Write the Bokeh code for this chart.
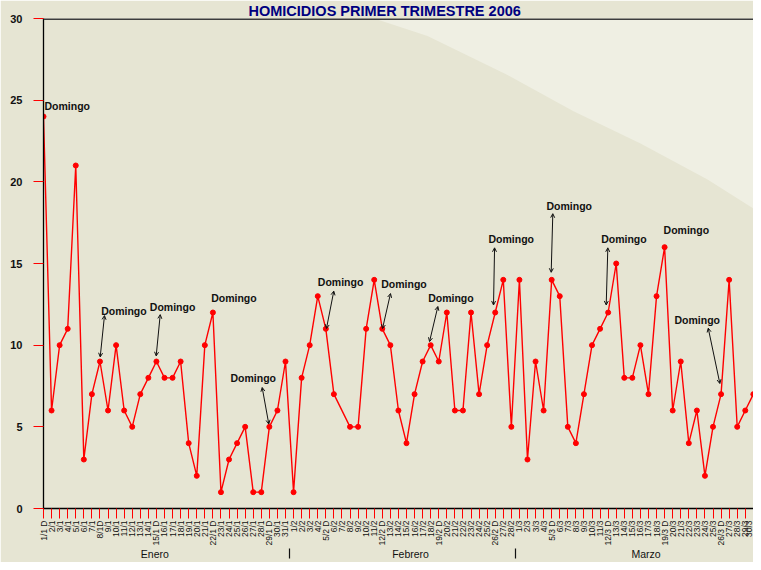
import math
from bokeh.plotting import figure
from bokeh.models import (FixedTicker, Label, Arrow, OpenHead, PolyAnnotation, Range1d,
                          LinearAxis, Span)
from bokeh.embed import file_html
from bokeh.resources import INLINE

# ---- data (homicidios por día) ----
enero = [24, 6, 10, 11, 21, 3, 7, 9, 6, 10, 6, 5, 7, 8, 9, 8, 8, 9, 4, 2,
         10, 12, 1, 3, 4, 5, 1, 1, 5, 6, 9]
febrero = [1, 8, 10, 13, 11, 7, None, 5, 5, 11, 14, 11, 10, 6, 4, 7, 9, 10, 9, 12,
           6, 6, 12, 7, 10, 12, 14, 5]
marzo = [14, 3, 9, 6, 14, 13, 5, 4, 7, 10, 11, 12, 15, 8, 8, 10, 7, 13, 16, 6,
         9, 4, 6, 2, 5, 7, 14, 5, 6, 7, 5]

ene_labels = ["1/1 D", "2/1", "3/1", "4/1", "5/1", "6/1", "7/1", "8/1D", "9/1", "10/1",
              "11/1", "12/1", "13/1", "14/1", "15/1 D", "16/1", "17/1", "18/1", "19/1", "20/1",
              "21/1", "22/1 D", "23/1", "24/1", "25/1", "26/1", "27/1", "28/1", "29/1 D", "30/1",
              "31/1"]
feb_labels = ["1/2", "2/2", "3/2", "4/2", "5/2 D", "6/2", "7/2", "8/2", "9/2", "10/2",
              "11/2", "12/2 D", "13/2", "14/2", "15/2", "16/2", "17/2", "18/2", "19/2 D", "20/2",
              "21/2", "22/2", "23/2", "24/2", "25/2", "26/2 D", "27/2", "28/2"]
mar_labels = ["1/3", "2/3", "3/3", "4/3", "5/3 D", "6/3", "7/3", "8/3", "9/3", "10/3",
              "11/3", "12/3 D", "13/3", "14/3", "15/3", "16/3", "17/3", "18/3", "19/3 D", "20/3",
              "21/3", "22/3", "23/3", "24/3", "25/3", "26/3 D", "27/3", "28/3", "29/3", "30/3",
              "31/3"]

meses = ["Enero", "Febrero", "Marzo"]
meses_x = [13.8, 45.5, 74.7]
separadores_x = [30.5, 58.5]
y_ticks = [0, 5, 10, 15, 20, 25, 30]

# "Domingo" annotations (label position in data units)
dom_x = [0.12, 7.15, 13.18, 20.79, 23.18, 34.01, 41.87, 47.69, 62.36, 55.17, 69.14, 76.87, 78.23]
dom_y = [24.62, 12.11, 12.33, 12.87, 7.99, 13.88, 13.73, 12.91, 18.53, 16.49, 16.49, 17.05, 11.55]
# arrows: (x0, y0) -> (x1, y1)
arr_x0 = [7.56, 14.47, 27.11, 35.99, 43.02, 48.89, 63.14, 55.92, 69.96, 82.41]
arr_y0 = [11.81, 11.87, 7.41, 13.31, 13.16, 12.37, 18.05, 15.96, 15.96, 11.04]
arr_x1 = [7.03, 13.97, 27.93, 35.08, 42.03, 47.86, 62.94, 55.79, 69.76, 83.85]
arr_y1 = [9.28, 9.34, 5.17, 11.02, 11.02, 10.22, 14.46, 12.46, 12.46, 7.65]

values = enero + febrero + marzo
labels = ene_labels + feb_labels + mar_labels
idx = list(range(len(values)))
xs = [i for i, v in zip(idx, values) if v is not None]
ys = [v for v in values if v is not None]

BG = "#E6E5D3"
LIGHT = "#EFEFE3"
FONT = "Liberation Sans"
INK = "#111111"

p = figure(width=753, height=562, output_backend="svg", toolbar_location=None,
           x_range=Range1d(0, 88.02), y_range=Range1d(0, 30),
           min_border_left=43, min_border_right=0, min_border_top=2, min_border_bottom=10,
           background_fill_color=BG, border_fill_color=BG)

p.title.text = "HOMICIDIOS PRIMER TRIMESTRE 2006"
p.title.align = "left"
p.title.offset = 205
p.title.standoff = 0
p.title.text_font = FONT
p.title.text_font_size = "14.5px"
p.title.text_font_style = "bold"
p.title.text_color = "#000080"

# light swoosh in the background (reference pixel outline converted to data units)
sw_px = [(330, 0), (350, 7), (427, 33), (507, 73), (573, 110), (640, 143), (707, 180),
         (761, 215), (761, 15), (733, 0)]
p.add_layout(PolyAnnotation(xs=[(a - 43) / 8.066 for a, b in sw_px],
                            ys=[(517 - b) / 16.733 for a, b in sw_px],
                            fill_color=LIGHT, fill_alpha=1.0, line_alpha=0, level="underlay"))

p.xgrid.visible = False
p.ygrid.visible = False
p.outline_line_color = None
p.add_layout(Span(location=30, dimension="width", line_color="#3c3c3c", line_width=3))

# y axis
ya = p.yaxis[0]
ya.ticker = FixedTicker(ticks=y_ticks)
ya.major_tick_out = 10
ya.major_tick_in = 0
ya.minor_tick_out = 0
ya.minor_tick_in = 0
ya.major_tick_line_color = "red"
ya.axis_line_color = "black"
ya.axis_line_width = 1.3
ya.major_label_text_font = FONT
ya.major_label_text_font_size = "11px"
ya.major_label_text_font_style = "bold"
ya.major_label_text_color = INK
ya.major_label_standoff = 11

# x axis (days)
xa = p.xaxis[0]
xa.ticker = FixedTicker(ticks=idx)
xa.major_label_overrides = {i: lab for i, lab in zip(idx, labels)}
xa.major_label_orientation = math.pi / 2
xa.major_tick_out = 10
xa.major_tick_in = 0
xa.minor_tick_out = 0
xa.minor_tick_in = 0
xa.major_tick_line_color = "red"
xa.axis_line_color = "black"
xa.axis_line_width = 1.3
xa.major_label_text_font = FONT
xa.major_label_text_font_size = "8.5px"
xa.major_label_text_color = INK
xa.major_label_standoff = 2

# month axis (group labels + separators as minor ticks)
ma = LinearAxis(ticker=FixedTicker(ticks=meses_x, minor_ticks=separadores_x))
ma.major_label_overrides = {mx: m for mx, m in zip(meses_x, meses)}
ma.axis_line_color = None
ma.major_tick_out = 0
ma.major_tick_in = 0
ma.major_tick_line_color = None
ma.minor_tick_out = 10
ma.minor_tick_in = 0
ma.minor_tick_line_color = INK
ma.minor_tick_line_width = 1.2
ma.major_label_standoff = -11
ma.major_label_text_font = FONT
ma.major_label_text_font_size = "10.5px"
ma.major_label_text_color = INK
p.add_layout(ma, "below")

# series
p.line(xs, ys, line_color="red", line_width=1.4)
p.scatter(xs, ys, size=5, color="red")

# Domingo labels
for x, y in zip(dom_x, dom_y):
    p.add_layout(Label(x=x, y=y, text="Domingo", text_font=FONT, text_font_size="10.5px",
                       text_font_style="bold", text_color=INK, text_baseline="middle",
                       text_align="left"))
for x0, y0, x1, y1 in zip(arr_x0, arr_y0, arr_x1, arr_y1):
    p.add_layout(Arrow(x_start=x0, y_start=y0, x_end=x1, y_end=y1, line_color=INK,
                       line_width=1,
                       start=OpenHead(size=4, line_width=1, line_color=INK),
                       end=OpenHead(size=4, line_width=1, line_color=INK)))

open("out.html", "w").write(file_html(p, INLINE))
